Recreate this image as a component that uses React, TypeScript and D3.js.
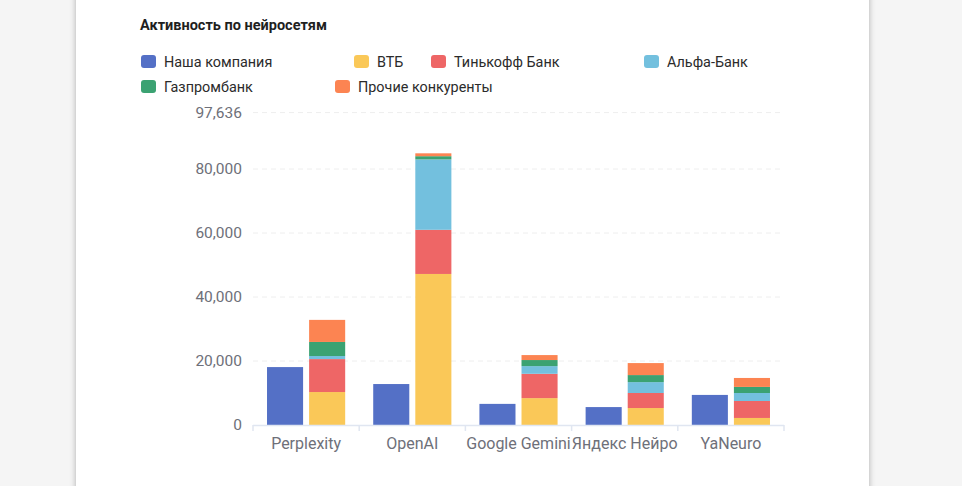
import React, { useEffect, useRef } from 'react';
import * as d3 from 'd3';

// categories (neural networks)
const categories = ['Perplexity', 'OpenAI', 'Google Gemini', 'Яндекс Нейро', 'YaNeuro'];

// our company (separate bar)
const ourCompany = [18100, 12800, 6600, 5600, 9400];

// competitors (stacked bar)
const vtb = [10300, 47200, 8400, 5300, 2200];
const tinkoff = [10300, 13800, 7600, 4700, 5300];
const alfa = [950, 22000, 2400, 3400, 2500];
const gazprom = [4400, 1000, 1900, 2200, 1900];
const others = [6900, 901, 1550, 3750, 2800];

const seriesNames = ['Наша компания', 'ВТБ', 'Тинькофф Банк', 'Альфа-Банк', 'Газпромбанк', 'Прочие конкуренты'];
const seriesColors = ['#5470c6', '#fac858', '#ee6666', '#73c0de', '#3ba272', '#fc8452'];
const yTickValues = [0, 20000, 40000, 60000, 80000];

const W = 962;
const H = 486;
const FONT = 'Roboto, "Noto Sans", sans-serif';

export default function App() {
  const svgRef = useRef<SVGSVGElement>(null);

  useEffect(() => {
    if (!svgRef.current) return;
    const svg = d3.select(svgRef.current);
    svg.selectAll('*').remove();

    const left = 253, right = 784, bottom = 425;

    const rows = categories.map((c, i) => ({
      cat: c,
      vtb: vtb[i],
      tinkoff: tinkoff[i],
      alfa: alfa[i],
      gazprom: gazprom[i],
      others: others[i],
    }));
    const keys = ['vtb', 'tinkoff', 'alfa', 'gazprom', 'others'];
    const stacked = d3.stack<any>().keys(keys)(rows);
    const totals = rows.map(r => keys.reduce((s, k) => s + (r as any)[k], 0));
    const yMax = Math.round((d3.max(totals) as number) * 1.15);

    const x0 = d3.scaleBand<string>().domain(categories).range([left, right]).padding(0);
    const x1 = d3.scaleBand<string>()
      .domain(['ours', 'comp'])
      .range([x0.bandwidth() * 0.132, x0.bandwidth() * 0.868])
      .paddingInner(0.143)
      .paddingOuter(0);
    const y = d3.scaleLinear().domain([0, yMax]).range([bottom, bottom - yMax * 0.0032]);

    // title
    svg.append('text')
      .attr('x', 140).attr('y', 30)
      .attr('font-family', FONT).attr('font-size', 14.5).attr('font-weight', 700)
      .attr('fill', '#1f1f1f')
      .text('Активность по нейросетям');

    // legend
    const legendPos = [[141, 55], [354, 55], [431, 55], [644, 55], [141, 80], [335, 80]];
    const legend = svg.append('g');
    seriesNames.forEach((name, i) => {
      const [lx, ly] = legendPos[i];
      legend.append('rect')
        .attr('x', lx).attr('y', ly).attr('width', 15).attr('height', 13).attr('rx', 3)
        .attr('fill', seriesColors[i]);
      legend.append('text')
        .attr('x', lx + 23).attr('y', ly + 12)
        .attr('font-family', FONT).attr('font-size', 14.4)
        .attr('fill', '#2b2b2b')
        .text(name);
    });

    // grid
    const gridVals = [...yTickValues.slice(1), yMax];
    svg.append('g').selectAll('line').data(gridVals).join('line')
      .attr('x1', left).attr('x2', right)
      .attr('y1', d => y(d)).attr('y2', d => y(d))
      .attr('stroke', '#eeeeee').attr('stroke-width', 1).attr('stroke-dasharray', '5,4');

    // y labels
    svg.append('g').selectAll('text').data([...yTickValues, yMax]).join('text')
      .attr('x', 242).attr('y', d => y(d))
      .attr('dy', '0.35em')
      .attr('text-anchor', 'end')
      .attr('font-family', FONT).attr('font-size', 15.5)
      .attr('fill', '#6e7079')
      .text(d => d3.format(',')(d));

    // our company bars
    svg.append('g').selectAll('rect').data(ourCompany).join('rect')
      .attr('x', (_, i) => (x0(categories[i]) as number) + (x1('ours') as number))
      .attr('width', x1.bandwidth())
      .attr('y', d => y(d))
      .attr('height', d => y(0) - y(d))
      .attr('fill', seriesColors[0]);

    // competitor stacked bars
    stacked.forEach((layer, li) => {
      svg.append('g').selectAll('rect').data(layer).join('rect')
        .attr('x', d => (x0(d.data.cat) as number) + (x1('comp') as number))
        .attr('width', x1.bandwidth())
        .attr('y', d => y(d[1]))
        .attr('height', d => y(d[0]) - y(d[1]))
        .attr('fill', seriesColors[li + 1]);
    });

    // x axis
    const axis = svg.append('g');
    axis.append('line')
      .attr('x1', left).attr('x2', right).attr('y1', bottom + 0.5).attr('y2', bottom + 0.5)
      .attr('stroke', '#e0e6f1').attr('stroke-width', 1.5);
    const boundaries = [...categories.map(c => x0(c) as number), right];
    axis.selectAll('line.tick').data(boundaries).join('line')
      .attr('class', 'tick')
      .attr('x1', d => d).attr('x2', d => d)
      .attr('y1', bottom).attr('y2', bottom + 6)
      .attr('stroke', '#e0e6f1').attr('stroke-width', 1.5);
    axis.selectAll('text').data(categories).join('text')
      .attr('x', d => (x0(d) as number) + x0.bandwidth() / 2)
      .attr('y', 449)
      .attr('text-anchor', 'middle')
      .attr('font-family', FONT).attr('font-size', 16)
      .attr('fill', '#6e7079')
      .text(d => d);
  }, []);

  return (
    <div style={{ position: 'fixed', left: 0, top: 0, width: W, height: H, background: '#f5f5f5', overflow: 'hidden' }}>
      <div
        style={{
          position: 'absolute', left: 76, top: -10, width: 793, height: H + 20,
          background: '#ffffff', boxShadow: '0 0 6px rgba(0,0,0,0.3)',
        }}
      />
      <svg ref={svgRef} width={W} height={H} style={{ position: 'absolute', left: 0, top: 0 }} />
    </div>
  );
}
